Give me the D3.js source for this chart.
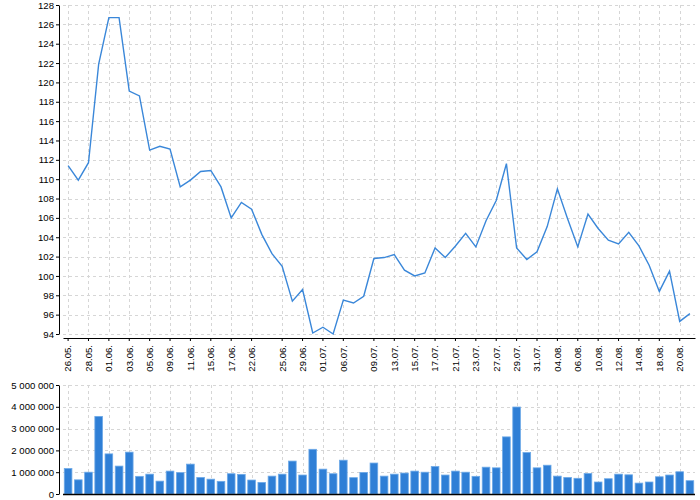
<!DOCTYPE html>
<html>
<head>
<meta charset="utf-8">
<script src="https://cdn.jsdelivr.net/npm/d3@7"></script>
<style>
body { margin: 0; background: #fff; }
svg { display: block; font-family: "DejaVu Sans", sans-serif; }
.grid line { stroke: #d6d6d6; stroke-dasharray: 3,3; stroke-width: 1; }
.axis text { font-size: 9.6px; fill: #000; }
.axis path, .axis line { stroke: #000; }
</style>
</head>
<body>
<svg id="chart" width="700" height="500"></svg>
<script>
var dates = ['26.05.','27.05.','28.05.','29.05.','01.06.','02.06.','03.06.','04.06.','05.06.','08.06.',
	'09.06.','10.06.','11.06.','12.06.','15.06.','16.06.','17.06.','18.06.','22.06.','23.06.',
	'24.06.','25.06.','26.06.','29.06.','30.06.','01.07.','02.07.','06.07.','07.07.','08.07.',
	'09.07.','10.07.','13.07.','14.07.','15.07.','16.07.','17.07.','20.07.','21.07.','22.07.',
	'23.07.','24.07.','27.07.','28.07.','29.07.','30.07.','31.07.','03.08.','04.08.','05.08.',
	'06.08.','07.08.','10.08.','11.08.','12.08.','13.08.','14.08.','17.08.','18.08.','19.08.',
	'20.08.','21.08.'];

var prices = [111.4, 109.9, 111.7, 121.9, 126.7, 126.7, 119.1, 118.6, 113.0, 113.4,
	113.1, 109.2, 109.9, 110.8, 110.9, 109.2, 106.0, 107.6, 106.9, 104.3,
	102.3, 101.0, 97.4, 98.6, 94.1, 94.7, 94.0, 97.5, 97.2, 97.9,
	101.8, 101.9, 102.2, 100.6, 100.0, 100.3, 102.9, 101.9, 103.1, 104.4,
	103.0, 105.7, 107.8, 111.6, 102.9, 101.7, 102.5, 105.1, 109.0, 105.9,
	103.0, 106.4, 104.9, 103.7, 103.3, 104.5, 103.1, 101.1, 98.4, 100.5,
	95.3, 96.1];

var volumes = [1170000, 650000, 1000000, 3560000, 1840000, 1280000, 1920000, 810000, 910000, 590000,
	1050000, 980000, 1370000, 760000, 680000, 580000, 930000, 900000, 640000, 530000,
	820000, 910000, 1510000, 870000, 2050000, 1140000, 930000, 1550000, 750000, 990000,
	1420000, 820000, 910000, 960000, 1050000, 1000000, 1260000, 870000, 1050000, 1000000,
	810000, 1230000, 1200000, 2620000, 3990000, 1900000, 1200000, 1320000, 820000, 760000,
	720000, 940000, 550000, 700000, 910000, 880000, 500000, 550000, 790000, 870000,
	1020000, 610000];

var tickLabels = ['26.05.','28.05.','01.06.','03.06.','05.06.','09.06.','11.06.','15.06.','17.06.','22.06.',
	'25.06.','29.06.','01.07.','06.07.','09.07.','13.07.','15.07.','17.07.','21.07.','23.07.',
	'27.07.','29.07.','31.07.','04.08.','06.08.','10.08.','12.08.','14.08.','18.08.','20.08.'];

var priceTicks = d3.range(94, 129, 2);
var volumeTicks = [0, 1000000, 2000000, 3000000, 4000000, 5000000];

var left = 63, right = 695, axisX = 59;
var mainTop = 5, mainBottom = 334, mainAxisY = 338;
var volTop = 385, volBottom = 494;

var locale = d3.formatLocale({ decimal: ',', thousands: '\u00a0', grouping: [3], currency: ['', ''] });
var fmtVol = locale.format(',d');

var svg = d3.select('#chart');

var x = d3.scaleBand()
.domain(dates)
.range([left, right])
.paddingInner(0.25)
.paddingOuter(0.125);

var xc = function(d) { return x(d) + x.bandwidth() / 2; };

var y = d3.scaleLinear()
.domain([94, 128])
.range([mainBottom, mainTop]);

var yv = d3.scaleLinear()
.domain([0, 5000000])
.range([volBottom, volTop]);

// grid
function grid(yScale, ticks, top, bottom) {
	var g = svg.append('g').attr('class', 'grid');
	g.selectAll('line.h')
	.data(ticks)
	.enter()
	.append('line')
	.attr('class', 'h')
	.attr('x1', left)
	.attr('x2', right)
	.attr('y1', function(d) { return Math.round(yScale(d)) + 0.5; })
	.attr('y2', function(d) { return Math.round(yScale(d)) + 0.5; });
	g.selectAll('line.v')
	.data(tickLabels)
	.enter()
	.append('line')
	.attr('class', 'v')
	.attr('x1', function(d) { return Math.round(xc(d)) + 0.5; })
	.attr('x2', function(d) { return Math.round(xc(d)) + 0.5; })
	.attr('y1', top)
	.attr('y2', bottom);
}

grid(y, priceTicks, mainTop, mainBottom);
grid(yv, volumeTicks, volTop, volBottom);

// price line
svg.append('path')
.datum(prices)
.attr('fill', 'none')
.attr('stroke', '#3a87d9')
.attr('stroke-width', 1.4)
.attr('stroke-linejoin', 'miter')
.attr('d', d3.line()
	.x(function(d, i) { return xc(dates[i]); })
	.y(function(d) { return y(d); }));

// volume bars
svg.append('g')
.selectAll('rect')
.data(volumes)
.enter()
.append('rect')
.attr('x', function(d, i) { return x(dates[i]); })
.attr('y', function(d) { return yv(d); })
.attr('width', x.bandwidth())
.attr('height', function(d) { return volBottom - yv(d); })
.style('fill', '#2f7fd6')
.style('stroke', '#6eaae8')
.style('stroke-width', 0.8);

// axes
svg.append('g')
.attr('class', 'axis')
.attr('transform', 'translate(' + axisX + ',0)')
.call(d3.axisLeft(y).tickValues(priceTicks).tickSize(3).tickSizeOuter(0).tickPadding(2).tickFormat(d3.format('d')));

svg.append('g')
.attr('class', 'axis')
.attr('transform', 'translate(' + axisX + ',0)')
.call(d3.axisLeft(yv).tickValues(volumeTicks).tickSize(3).tickSizeOuter(0).tickPadding(2).tickFormat(fmtVol));

var xAxis = svg.append('g')
.attr('class', 'axis')
.attr('transform', 'translate(0,' + mainAxisY + ')')
.call(d3.axisBottom(x).tickValues(tickLabels).tickSize(3).tickSizeOuter(0).tickPadding(4));

xAxis.selectAll('text')
.attr('transform', 'rotate(-90)')
.attr('x', -7)
.attr('y', 0)
.attr('dy', '0.35em')
.style('text-anchor', 'end');

svg.append('line')
.attr('x1', left)
.attr('x2', right)
.attr('y1', volBottom + 0.5)
.attr('y2', volBottom + 0.5)
.attr('stroke', '#000')
.attr('stroke-width', 1.5);
</script>
</body>
</html>
